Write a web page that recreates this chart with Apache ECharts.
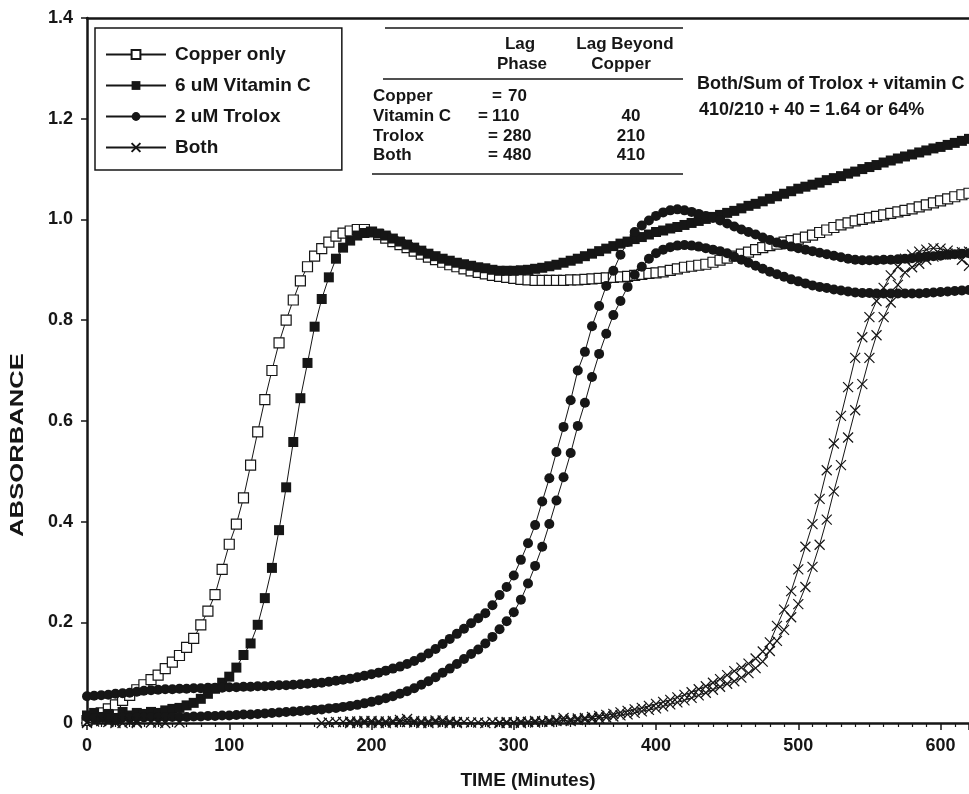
<!DOCTYPE html>
<html>
<head>
<meta charset="utf-8">
<title>Absorbance vs time</title>
<script src="https://cdn.jsdelivr.net/npm/echarts@6/dist/echarts.min.js"></script>
<style>
  html, body { margin: 0; padding: 0; background: #fff; }
  #chart { width: 969px; height: 794px; }
</style>
</head>
<body>
<div id="chart"></div>
<script>
// sampling times (minutes)
var minutes = [
  0, 5, 10, 15, 20, 25, 30, 35, 40, 45,
  50, 55, 60, 65, 70, 75, 80, 85, 90, 95,
  100, 105, 110, 115, 120, 125, 130, 135, 140, 145,
  150, 155, 160, 165, 170, 175, 180, 185, 190, 195,
  200, 205, 210, 215, 220, 225, 230, 235, 240, 245,
  250, 255, 260, 265, 270, 275, 280, 285, 290, 295,
  300, 305, 310, 315, 320, 325, 330, 335, 340, 345,
  350, 355, 360, 365, 370, 375, 380, 385, 390, 395,
  400, 405, 410, 415, 420, 425, 430, 435, 440, 445,
  450, 455, 460, 465, 470, 475, 480, 485, 490, 495,
  500, 505, 510, 515, 520, 525, 530, 535, 540, 545,
  550, 555, 560, 565, 570, 575, 580, 585, 590, 595,
  600, 605, 610, 615, 620
];

var copperOnly = [
  0.005, 0.01, 0.02, 0.028, 0.036, 0.045, 0.055, 0.066, 0.076, 0.086,
  0.095, 0.108, 0.121, 0.134, 0.15, 0.168, 0.195, 0.222, 0.255, 0.305,
  0.355, 0.395, 0.447, 0.512, 0.578, 0.642, 0.70, 0.755, 0.80, 0.84,
  0.878, 0.906, 0.927, 0.942, 0.955, 0.967, 0.973, 0.977, 0.98, 0.98,
  0.975, 0.97, 0.963, 0.956, 0.95, 0.944, 0.937, 0.931, 0.925, 0.92,
  0.915, 0.91, 0.906, 0.902, 0.898, 0.895, 0.892, 0.889, 0.887, 0.885,
  0.883, 0.881, 0.88, 0.879, 0.879, 0.879, 0.879, 0.879, 0.88, 0.88,
  0.881, 0.882, 0.883, 0.884, 0.885, 0.886, 0.887, 0.889, 0.891, 0.893,
  0.894, 0.896, 0.899, 0.902, 0.905, 0.907, 0.909, 0.911, 0.915, 0.919,
  0.923, 0.927, 0.931, 0.935, 0.94, 0.944, 0.948, 0.951, 0.955, 0.958,
  0.961, 0.965, 0.969, 0.974, 0.979, 0.984, 0.989, 0.993, 0.997, 1.0,
  1.003, 1.006, 1.009, 1.012, 1.015, 1.018, 1.021, 1.025, 1.029, 1.033,
  1.037, 1.041, 1.045, 1.049, 1.052
];

var vitaminC = [
  0.015, 0.02, 0.012, 0.018, 0.01, 0.022, 0.015, 0.02, 0.018, 0.022,
  0.02, 0.025, 0.028, 0.03, 0.035, 0.04, 0.048, 0.058, 0.068, 0.08,
  0.092, 0.11, 0.135, 0.158, 0.195, 0.248, 0.308, 0.383, 0.468, 0.558,
  0.645, 0.715, 0.787, 0.842, 0.885, 0.922, 0.944, 0.958, 0.968, 0.973,
  0.975, 0.972, 0.968, 0.962, 0.956, 0.95, 0.944, 0.938, 0.932, 0.927,
  0.922, 0.918, 0.914, 0.911, 0.908, 0.905, 0.903, 0.9, 0.898, 0.898,
  0.898, 0.899, 0.9, 0.902, 0.904, 0.907, 0.91, 0.914, 0.918, 0.922,
  0.927, 0.932, 0.937, 0.942, 0.947, 0.952, 0.956, 0.961, 0.965, 0.97,
  0.975, 0.978, 0.982, 0.985, 0.989, 0.993, 0.997, 1.001, 1.005, 1.009,
  1.013, 1.017, 1.022, 1.027, 1.031, 1.036, 1.041, 1.046, 1.051, 1.056,
  1.061, 1.065, 1.069, 1.073, 1.078, 1.082, 1.086, 1.091, 1.095, 1.1,
  1.104, 1.108, 1.113, 1.117, 1.121, 1.125, 1.129, 1.133, 1.137, 1.141,
  1.144, 1.148, 1.152, 1.156, 1.16
];

// two Trolox runs
var troloxA = [
  0.053, 0.054, 0.055, 0.056, 0.058, 0.059, 0.06, 0.062, 0.064, 0.065,
  0.066, 0.067, 0.067, 0.068, 0.068, 0.069, 0.069, 0.07, 0.07, 0.07,
  0.071, 0.071, 0.072, 0.072, 0.073, 0.073, 0.074, 0.075, 0.075, 0.076,
  0.077, 0.078, 0.079, 0.08, 0.082, 0.084, 0.086, 0.088, 0.091, 0.094,
  0.097, 0.1, 0.104, 0.108, 0.112, 0.117, 0.123, 0.13, 0.138, 0.147,
  0.157, 0.167, 0.177, 0.187, 0.198, 0.208, 0.218, 0.234, 0.254, 0.27,
  0.293, 0.324, 0.357, 0.393, 0.44, 0.486, 0.538, 0.588, 0.641, 0.70,
  0.737, 0.788, 0.828, 0.868, 0.898, 0.93, 0.955, 0.975, 0.988, 0.998,
  1.007, 1.014, 1.018, 1.02, 1.018, 1.015, 1.011, 1.007, 1.003, 0.998,
  0.992, 0.986, 0.98, 0.975, 0.97, 0.964, 0.959, 0.954, 0.95, 0.946,
  0.943, 0.94, 0.937, 0.934, 0.931, 0.928, 0.925, 0.922, 0.92, 0.919,
  0.919, 0.919, 0.92, 0.92, 0.921, 0.922, 0.923, 0.925, 0.926, 0.927,
  0.928, 0.93, 0.931, 0.932, 0.933
];

var troloxB = [
  0.012, 0.01, 0.011, 0.01, 0.01, 0.011, 0.01, 0.011, 0.011, 0.012,
  0.011, 0.012, 0.012, 0.012, 0.012, 0.013, 0.013, 0.014, 0.014, 0.015,
  0.015, 0.016, 0.017, 0.017, 0.018, 0.019, 0.02, 0.021, 0.022, 0.023,
  0.024, 0.025, 0.026, 0.027, 0.029, 0.03, 0.032, 0.034, 0.036, 0.039,
  0.042, 0.045, 0.049, 0.053, 0.058, 0.063, 0.069, 0.076, 0.083, 0.091,
  0.1, 0.108, 0.117, 0.127, 0.137, 0.146, 0.158, 0.171, 0.186, 0.202,
  0.22, 0.245, 0.277, 0.312, 0.35, 0.395, 0.442, 0.488, 0.536, 0.59,
  0.636, 0.687, 0.733, 0.773, 0.81, 0.838, 0.866, 0.89, 0.906, 0.922,
  0.933, 0.94, 0.945, 0.948, 0.949, 0.948, 0.946, 0.943, 0.94, 0.937,
  0.933, 0.926, 0.92, 0.914, 0.908, 0.902, 0.896, 0.891, 0.886, 0.881,
  0.877, 0.873, 0.869, 0.866, 0.864, 0.861, 0.859, 0.857, 0.855, 0.854,
  0.854, 0.853, 0.853, 0.853, 0.853, 0.853, 0.853, 0.853, 0.854, 0.855,
  0.856, 0.857, 0.858, 0.859, 0.86
];

// two runs with both antioxidants
var bothA = [
  0.0, 0.003, -0.002, 0.002, 0.0, -0.003, 0.002, 0.0, -0.002, 0.001,
  -0.003, 0.0, -0.004, 0.001, -0.005, -0.002, -0.006, -0.003, -0.007, -0.004,
  -0.008, -0.005, -0.009, -0.006, -0.009, -0.005, -0.008, -0.004, -0.007, -0.003,
  -0.006, -0.002, -0.004, 0.0, -0.003, 0.002, -0.002, 0.003, 0.0, 0.004,
  0.001, 0.003, 0.0, 0.004, 0.006, 0.002, 0.004, 0.0, 0.003, 0.005,
  0.001, 0.003, 0.0, 0.002, -0.002, 0.001, -0.001, 0.002, 0.0, 0.002,
  0.001, 0.003, 0.002, 0.004, 0.003, 0.005, 0.006, 0.01, 0.007, 0.009,
  0.01, 0.012, 0.014, 0.016, 0.018, 0.021, 0.024, 0.027, 0.03, 0.034,
  0.038, 0.042, 0.046, 0.051, 0.056, 0.061, 0.067, 0.073, 0.08, 0.087,
  0.095, 0.103, 0.11, 0.118, 0.128, 0.142, 0.16, 0.193, 0.225, 0.262,
  0.305, 0.35, 0.395, 0.445, 0.502, 0.555, 0.61, 0.667, 0.725, 0.766,
  0.806, 0.838, 0.864, 0.889, 0.906, 0.922, 0.93, 0.936, 0.94, 0.943,
  0.942, 0.938, 0.93, 0.92, 0.908
];

var bothB = [
  0.002, -0.002, 0.004, -0.001, 0.003, 0.0, -0.003, 0.002, -0.001, -0.004,
  0.001, -0.003, -0.001, -0.005, -0.002, -0.006, -0.003, -0.007, -0.004, -0.008,
  -0.005, -0.009, -0.006, -0.01, -0.006, -0.009, -0.005, -0.008, -0.004, -0.007,
  -0.003, -0.005, -0.001, -0.003, 0.001, -0.001, 0.002, 0.0, 0.003, 0.001,
  0.004, 0.0, 0.003, 0.001, 0.002, 0.008, 0.001, 0.003, 0.0, 0.002,
  0.005, 0.0, 0.002, -0.001, 0.001, -0.002, 0.0, -0.001, 0.001, 0.0,
  0.001, 0.0, 0.002, 0.001, 0.003, 0.002, 0.004, 0.005, 0.004, 0.006,
  0.007, 0.008, 0.01, 0.011, 0.013, 0.015, 0.017, 0.02, 0.023, 0.026,
  0.029, 0.033, 0.037, 0.041, 0.045, 0.05, 0.055, 0.06, 0.066, 0.072,
  0.078, 0.083, 0.09, 0.099, 0.109, 0.122, 0.143, 0.163, 0.185, 0.21,
  0.236, 0.27, 0.31, 0.354, 0.404, 0.46, 0.512, 0.567, 0.621, 0.673,
  0.725, 0.77, 0.806, 0.835, 0.87, 0.895, 0.905, 0.912, 0.92, 0.926,
  0.93, 0.932, 0.934, 0.935, 0.936
];

var legendNames = ['Copper only', '6 uM Vitamin C', '2 uM Trolox', 'Both'];

// lag phase table
var tableRows = ['Copper', 'Vitamin C', 'Trolox', 'Both'];
var lagPhase = ['70', '110', '280', '480'];
var lagBeyond = ['', '40', '210', '410'];

var FONT = '"Liberation Sans", Arial, Helvetica, sans-serif';
var INK = '#161616';

function pairs(vals) {
  return minutes.map(function (m, i) { return [m, vals[i]]; });
}

function lineSeries(name, vals, symbol, size, itemStyle, z) {
  return {
    name: name,
    type: 'line',
    data: pairs(vals),
    symbol: symbol,
    symbolSize: size,
    showSymbol: true,
    color: INK,
    lineStyle: { color: INK, width: 1 },
    itemStyle: itemStyle,
    z: z
  };
}

var crossPath = 'path://M0,0L10,10M0,10L10,0';

var chart = echarts.init(document.getElementById('chart'), null, { renderer: 'canvas' });

// table + note drawn as graphic elements
var graphics = [];
function addText(str, x, y, align, size) {
  graphics.push({
    type: 'text', x: x, y: y,
    style: { text: str, fill: INK, font: 'bold ' + (size || 17) + 'px ' + FONT,
             textAlign: align || 'left', textVerticalAlign: 'middle' }
  });
}
function addLine(x1, y1, x2, y2) {
  graphics.push({ type: 'line', shape: { x1: x1, y1: y1, x2: x2, y2: y2 },
                  style: { stroke: INK, lineWidth: 1.5 } });
}
addLine(385, 28, 683, 28);
addLine(383, 79, 683, 79);
addLine(372, 174, 683, 174);
addText('Lag', 520, 44, 'center');
addText('Phase', 522, 64, 'center');
addText('Lag Beyond', 625, 44, 'center');
addText('Copper', 621, 64, 'center');
var rowY = [96, 116, 136, 155];
var eqX = [492, 478, 488, 488];
var numX = [508, 492, 503, 503];
tableRows.forEach(function (r, i) {
  addText(r, 373, rowY[i], 'left');
  addText('=', eqX[i], rowY[i], 'left');
  addText(lagPhase[i], numX[i], rowY[i], 'left');
  if (lagBeyond[i]) addText(lagBeyond[i], 631, rowY[i], 'center');
});
addText('Both/Sum of Trolox + vitamin C', 697, 84, 'left', 18);
addText('410/210 + 40 = 1.64 or 64%', 699, 110, 'left', 18);
graphics.push({
  type: 'text', x: 18, y: 445, rotation: Math.PI / 2, scaleX: 1.35,
  style: { text: 'ABSORBANCE', fill: INK, font: 'bold 19px ' + FONT,
           textAlign: 'center', textVerticalAlign: 'middle' }
});

chart.setOption({
  animation: false,
  backgroundColor: '#fff',
  grid: { left: 87, right: 0, top: 18, bottom: 71, containLabel: false, outerBoundsMode: 'none' },
  legend: {
    data: legendNames,
    orient: 'vertical',
    left: 95, top: 28,
    itemWidth: 60, itemHeight: 11, itemGap: 12,
    padding: [17, 31, 13, 10],
    borderColor: INK, borderWidth: 1.5,
    selectedMode: false,
    textStyle: { fontSize: 19, fontWeight: 'bold', color: INK, fontFamily: FONT, padding: [0, 0, 0, 4] }
  },
  xAxis: [{
    type: 'value', min: 0, max: 620, interval: 100,
    name: 'TIME (Minutes)', nameLocation: 'middle', nameGap: 48,
    nameTextStyle: { fontSize: 19, fontWeight: 'bold', color: INK, fontFamily: FONT },
    axisLine: { show: true, onZero: false, lineStyle: { color: INK, width: 2.5 } },
    axisTick: { show: true, inside: false, length: 7, lineStyle: { color: INK, width: 1.5 } },
    minorTick: { show: true, splitNumber: 10, length: 4, lineStyle: { color: INK, width: 1.2 } },
    axisLabel: { fontSize: 18, fontWeight: 'bold', color: INK, fontFamily: FONT, margin: 14, showMaxLabel: false },
    splitLine: { show: false }
  }, {
    type: 'value', min: 0, max: 620, position: 'top',
    axisLine: { show: true, onZero: false, lineStyle: { color: INK, width: 2.5 } },
    axisTick: { show: false }, axisLabel: { show: false }, splitLine: { show: false }
  }],
  yAxis: {
    type: 'value', min: 0, max: 1.4, interval: 0.2,
    axisLine: { show: true, onZero: false, lineStyle: { color: INK, width: 2.5 } },
    axisTick: { show: true, inside: false, length: 6, lineStyle: { color: INK, width: 1.5 } },
    axisLabel: {
      fontSize: 18, fontWeight: 'bold', color: INK, fontFamily: FONT, margin: 14,
      formatter: function (v) { return v === 0 ? '0' : v.toFixed(1); }
    },
    splitLine: { show: false }
  },
  graphic: graphics,
  series: [
    lineSeries('Copper only', copperOnly, 'rect', 10, { color: '#fff', borderColor: INK, borderWidth: 1.2 }, 2),
    lineSeries('6 uM Vitamin C', vitaminC, 'rect', 10, { color: INK }, 3),
    lineSeries('2 uM Trolox', troloxA, 'circle', 10, { color: INK }, 4),
    lineSeries('2 uM Trolox', troloxB, 'circle', 10, { color: INK }, 4),
    lineSeries('Both', bothA, crossPath, 10, { color: 'none', borderColor: INK, borderWidth: 1.2 }, 5),
    lineSeries('Both', bothB, crossPath, 10, { color: 'none', borderColor: INK, borderWidth: 1.2 }, 5)
  ]
});
</script>
</body>
</html>
